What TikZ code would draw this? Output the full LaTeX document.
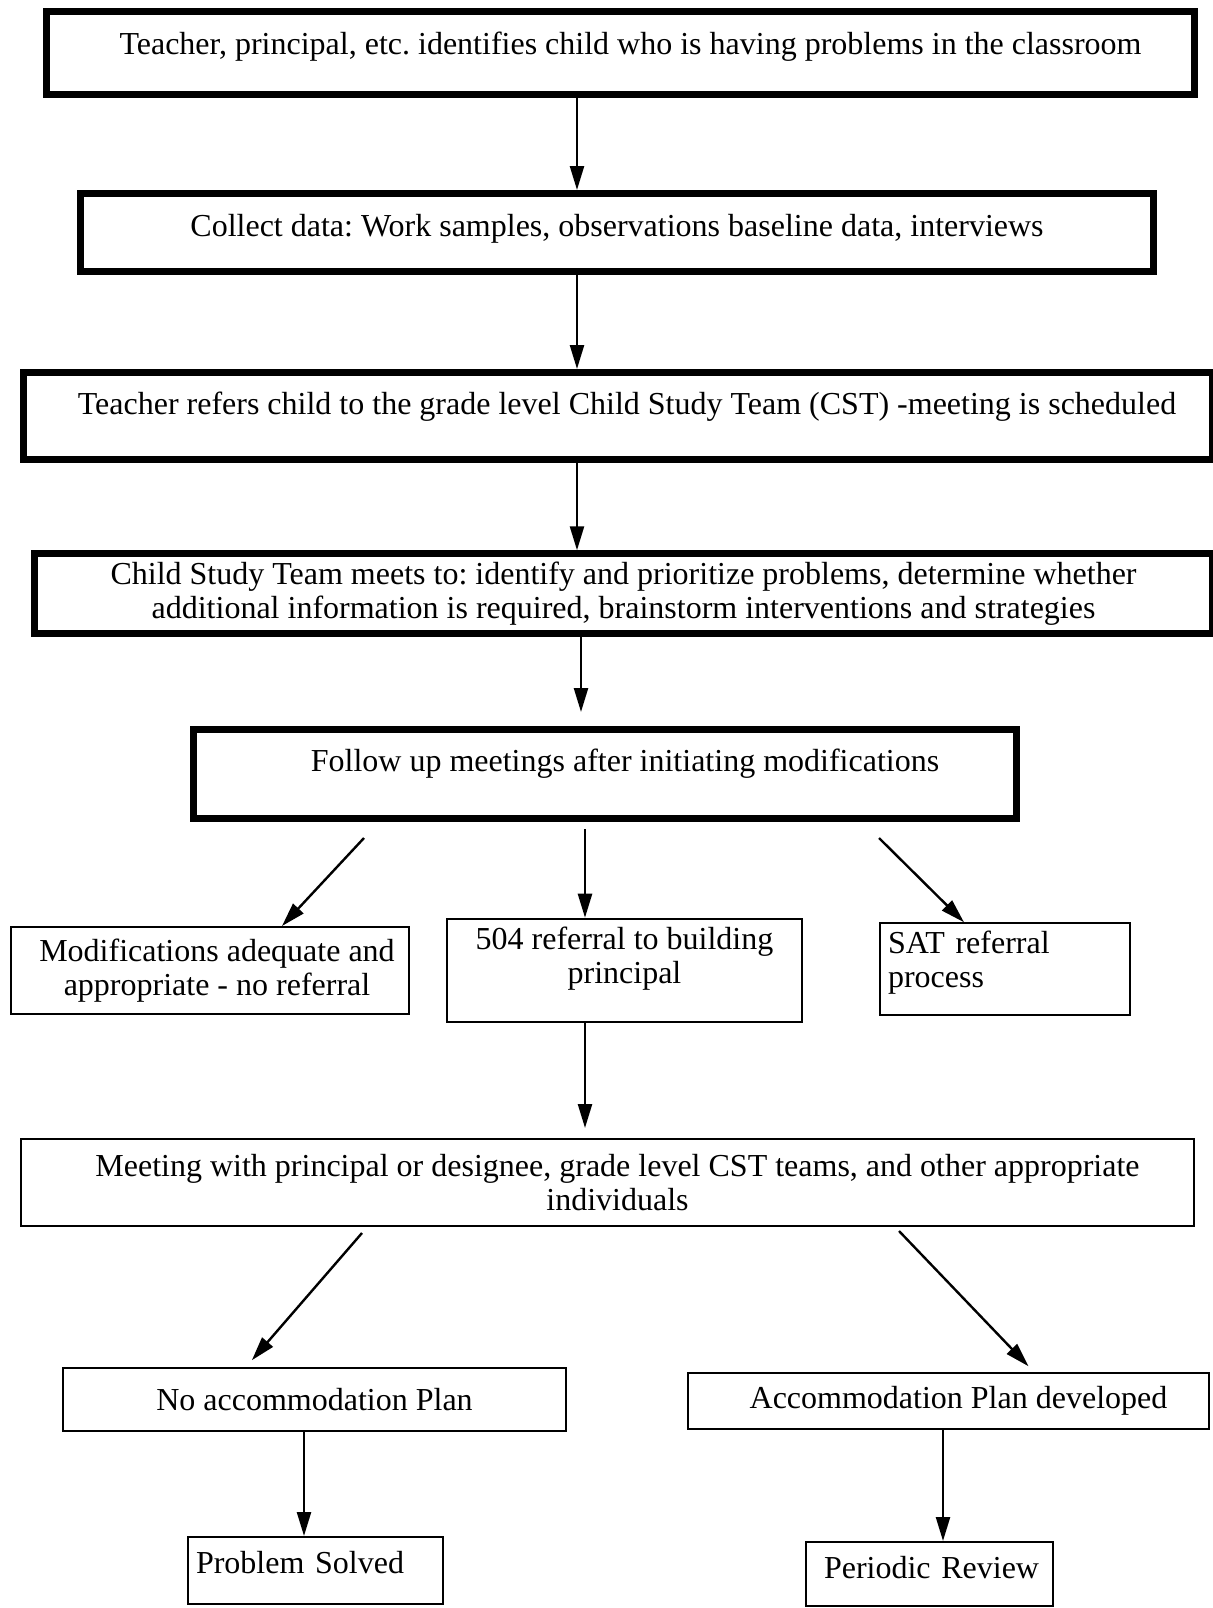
\documentclass[tikz,border=0pt]{standalone}
\usepackage{fontspec}
\setmainfont{Liberation Serif}
\usepackage{tikz}
\frenchspacing
\tikzset{
  box_font/.style = {font=\fontsize{16}{17}\selectfont},
  heavy_line/.style = {line width=3.5pt},
  light_line/.style = {line width=1pt}
}
\tikzset{
  heavy/.style = {box_font, align=center, draw, heavy_line, inner sep=4pt},
  light/.style = {box_font, align=center, draw, light_line, inner sep=4pt},
  flow/.style = {-{Triangle[length=12pt, width=7pt]}, line width=1.2pt}
}
\tikzset{
  sized/.style 2 args = {minimum width=#1, minimum height=#2},
  lifted/.style = {text depth=#1},
  flush_left/.style = {align=left, text width=#1}
}
\usetikzlibrary{arrows.meta, calc}

\begin{document}
\begin{tikzpicture}[x=0.5pt, y=-0.5pt]{
        \useasboundingbox (0,0) rectangle (1212,1608);

        % Drop lines
        \coordinate (spine) at (577,0);
        \coordinate (spine_b) at (581,0);
        \coordinate (branch) at (585,0);
        \coordinate (left_drop) at (304,0);
        \coordinate (right_drop) at (943,0);

        % Heavy boxes
        \node[heavy, sized={574pt}{41.5pt}, lifted=9.5pt] at (620.5,53) (id) {
            \hspace*{10pt}Teacher, principal, etc. identifies child who is having problems in the classroom};
        \node[heavy, sized={536.5pt}{39pt}, lifted=7.5pt] at (617,232.5) (data) {
            Collect data: Work samples, observations baseline data, interviews};
        \node[heavy, sized={594.5pt}{43.5pt}, lifted=12.5pt] at (618,416) (refer) {
            \hspace*{9pt}Teacher refers child to the grade level Child Study Team (CST) -meeting is scheduled};
        \node[heavy, sized={589pt}{39pt}] at (623.5,593.5) (cst) {
            Child Study Team meets to: identify and prioritize problems, determine whether \\
            additional information is required, brainstorm interventions and strategies};
        \node[heavy, sized={411.5pt}{44.5pt}, lifted=13.5pt] at (605,774) (follow) {
            \hspace*{20pt}Follow up meetings after initiating modifications};

        % Light boxes
        \node[light, sized={199pt}{43.5pt}] at (210,970.5) (mod_ok) {
            \hspace*{7pt}Modifications adequate and \\
            \hspace*{7pt}appropriate - no referral};
        \node[light, sized={177.5pt}{43.5pt}] at (624.5,970.5) (ref_504) {
            504 referral to building \\
            principal\rule[-15.5pt]{0pt}{0pt}};
        \node[light, sized={125pt}{40pt}, flush_left=117pt] at (1005,969) (sat) {
            SAT referral \\
            process\rule[-9.5pt]{0pt}{0pt}};
        \node[light, sized={586.5pt}{43.5pt}] at (607.5,1182.5) (meet) {
            \hspace*{10pt}Meeting with principal or designee, grade level CST teams, and other appropriate \\
            \hspace*{10pt}individuals};
        \node[light, sized={251.5pt}{31.5pt}] at (314.5,1399.5) (no_plan) {
            No accommodation Plan};
        \node[light, sized={260.5pt}{28pt}] at (948.5,1401) (plan) {
            \hspace*{10pt}Accommodation Plan developed};
        \node[light, sized={127.5pt}{33.5pt}, flush_left=119.5pt, lifted=8pt] at (315.5,1570.5) (solved) {
            \mbox{Problem Solved}};
        \node[light, inner xsep=9pt, sized={123.5pt}{32pt}, flush_left=105.5pt, lifted=7pt] at (929.5,1574) (review) {
            \mbox{Periodic Review}};

        % Arrows
        \draw[flow] (id.south -| spine) -- (data.north -| spine);
        \draw[flow] (data.south -| spine) -- (refer.north -| spine);
        \draw[flow] (refer.south -| spine) -- (cst.north -| spine);
        \draw[flow, shorten >=7pt] (cst.south -| spine_b) -- (follow.north -| spine_b);

        \draw[flow] ($(follow.south)+(-241,16)$) -- ($(mod_ok.north)+(72,0)$);
        \draw[flow, shorten <=3.5pt] (follow.south -| branch) -- (ref_504.north -| branch);
        \draw[flow] ($(follow.south)+(274,16)$) -- ($(sat.north)+(-41,0)$);

        \draw[flow, shorten >=5pt] (ref_504.south -| branch) -- (meet.north -| branch);
        \draw[flow, shorten >=4.5pt] ($(meet.south)+(-245.5,6)$) -- ($(no_plan.north)+(-68.5,0)$);
        \draw[flow, shorten >=4pt] ($(meet.south)+(291.5,4)$) -- ($(plan.north)+(85.5,0)$);

        \draw[flow] (no_plan.south -| left_drop) -- (solved.north -| left_drop);
        \draw[flow] (plan.south -| right_drop) -- (review.north -| right_drop);
        }
\end{tikzpicture}
\end{document}
